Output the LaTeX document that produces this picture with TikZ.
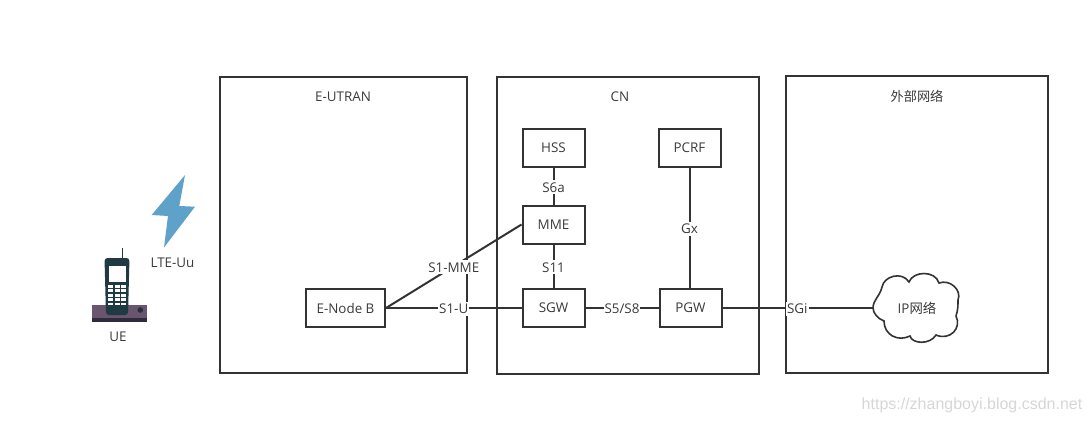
\documentclass[tikz,border=0pt]{standalone}
\usepackage{fontspec}
\setmainfont{Open Sans}
\newfontfamily\cjk{Noto Sans CJK SC}
\newfontfamily\wmfont{Liberation Sans}
\definecolor{ln}{HTML}{333333}
\definecolor{tx}{HTML}{3A3A3A}
\definecolor{bolt}{HTML}{5FA2C9}
\definecolor{phone}{HTML}{1F3A42}
\definecolor{base}{HTML}{6A5570}
\definecolor{based}{HTML}{2F2B3D}
\tikzset{
  lbl/.style={font=\fontsize{13.4}{15}\selectfont,text=tx,inner sep=0pt},
  lab/.style={lbl,fill=white,inner xsep=1pt,inner ysep=2pt,yshift=-1pt},
  zone/.style={draw=ln,line width=2pt,inner sep=0pt,anchor=north west},
  netbox/.style={draw=ln,line width=2pt,fill=white,lbl,anchor=center,minimum height=38pt,minimum width=62pt},
  conn/.style={draw=ln,line width=2pt}
}
\begin{document}
\begin{tikzpicture}[x=1pt,y=-1pt]
\useasboundingbox (0,0) rectangle (1091,423);
% zones
\node[zone,minimum width=247pt,minimum height=296pt] (eutran) at (218.5,75.5) {};
\node[zone,minimum width=262pt,minimum height=297pt] (cn) at (495.5,75.5) {};
\node[zone,minimum width=262pt,minimum height=297pt] (ext) at (784.5,74.5) {};
\node[lbl] (teutran) at (343,96.5) {E-UTRAN};
\node[lbl] (tcn) at (620,96.5) {CN};
\node[lbl,font=\fontsize{13.2}{15}\selectfont\cjk] (text) at (917,96) {外部网络};
% boxes
\node[netbox] (hss) at (553.5,148) {HSS};
\node[netbox] (pcrf) at (689.5,148) {PCRF};
\node[netbox] (mme) at (553.5,224.5) {MME};
\node[netbox] (sgw) at (553.5,308) {SGW};
\node[netbox] (pgw) at (690.5,308) {PGW};
\node[netbox,minimum width=79pt] (enb) at (345.5,308) {E-Node B};
% cloud
\draw[draw=ln,line width=1.6pt,fill=white]
  (873,308) .. controls (873,300) and (880,296) .. (882,287)
  .. controls (884,276) and (902,271) .. (909,282)
  .. controls (913,271) and (935,270) .. (939,283)
  .. controls (950,279) and (962,290) .. (958,300)
  .. controls (958,305) and (958,310) .. (956,316)
  .. controls (962,328) and (950,341) .. (936,335)
  .. controls (930,345) and (912,344) .. (910,336)
  .. controls (898,342) and (884,335) .. (884,321)
  .. controls (878,319) and (873,313) .. (873,308) -- cycle;
\coordinate (cloudw) at (873,308);
\node[lbl] (ip) at (917,308.5) {IP{\cjk 网络}};
% connectors
\draw[conn] (hss.south) -- node[lab] (s6a) {S6a} (mme.north);
\draw[conn] (mme.south) -- node[lab] (s11) {S11} (sgw.north);
\draw[conn] (pcrf.south) -- node[lab,pos=0.5] (gx) {Gx} (pcrf.south |- pgw.north);
\draw[conn] (sgw.east) -- node[lab] (s5) {S5/S8} (pgw.west);
\draw[conn] (enb.east) -- node[lab,pos=0.5] (s1u) {S1-U} (sgw.west);
\draw[conn] (enb.east) -- node[lab,pos=0.5] (s1m) {S1-MME} (mme.west);
\draw[conn] (pgw.east) -- node[lab,pos=0.497] (sgi) {SGi} (cloudw);
% lightning
\fill[bolt] (185,175) -- (151.7,215) -- (168,216) -- (164,247.5) -- (195,206.7) -- (179.3,206) -- cycle;
\node[lbl] (lte) at (172.5,262.5) {LTE-Uu};
% UE
\fill[base] (92,305) rectangle (147,318);
\fill[based] (92,318) rectangle (147,322);
\fill[based] (140.3,310) circle (2.8);
\draw[phone,line width=1.2pt] (122.3,248) -- (122.3,259);
\fill[phone,rounded corners=3pt] (104.5,258) -- (129.5,258) -- (128,315) -- (106,315) -- cycle;
\fill[white] (108.5,266) rectangle (125.5,282);
\foreach \r in {0,1,2,3,4} \foreach \c in {0,1,2}
  \fill[white] ({108.3+\c*6.4},{285+\r*4.4}) rectangle ++(4.8,2.8);
\node[lbl] (ue) at (118,336.5) {UE};
% watermark
\node[lbl,font=\fontsize{16}{18}\selectfont\wmfont,text=black!16] (wm) at (972,405) {https://zhangboyi.blog.csdn.net};
\end{tikzpicture}
\end{document}
